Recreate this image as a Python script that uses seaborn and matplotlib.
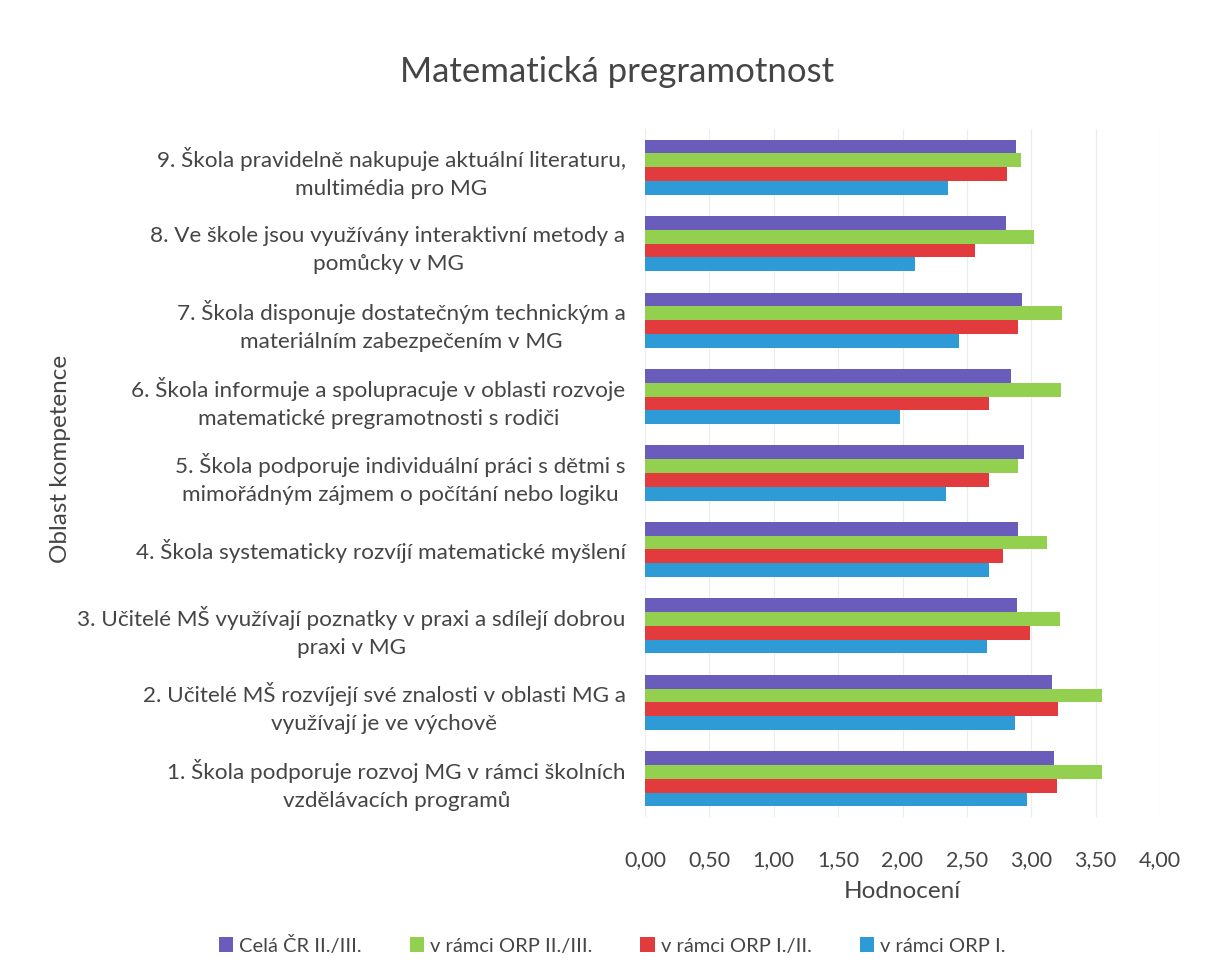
import matplotlib
matplotlib.use("Agg")
import matplotlib.pyplot as plt
import seaborn as sns
import pandas as pd

categories = [
    "9. Škola pravidelně nakupuje aktuální literaturu,\nmultimédia pro MG",
    "8. Ve škole jsou využívány interaktivní metody a\npomůcky v MG",
    "7. Škola disponuje dostatečným technickým a\nmateriálním zabezpečením v MG",
    "6. Škola informuje a spolupracuje v oblasti rozvoje\nmatematické pregramotnosti s rodiči",
    "5. Škola podporuje individuální práci s dětmi s\nmimořádným zájmem o počítání nebo logiku",
    "4. Škola systematicky rozvíjí matematické myšlení",
    "3. Učitelé MŠ využívají poznatky v praxi a sdílejí dobrou\npraxi v MG",
    "2. Učitelé MŠ rozvíjejí své znalosti v oblasti MG a\nvyužívají je ve výchově",
    "1. Škola podporuje rozvoj MG v rámci školních\nvzdělávacích programů",
]
series_names = ["Celá ČR II./III.", "v rámci ORP II./III.", "v rámci ORP I./II.", "v rámci ORP I."]
cela_cr = [2.88, 2.80, 2.93, 2.84, 2.94, 2.90, 2.89, 3.16, 3.18]
orp_2_3 = [2.92, 3.02, 3.24, 3.23, 2.90, 3.12, 3.22, 3.55, 3.55]
orp_1_2 = [2.81, 2.56, 2.90, 2.67, 2.67, 2.78, 2.99, 3.21, 3.20]
orp_1 = [2.35, 2.10, 2.44, 1.98, 2.34, 2.67, 2.66, 2.87, 2.97]
x_ticks = [0, 0.5, 1, 1.5, 2, 2.5, 3, 3.5, 4]
x_ticklabels = ["0,00", "0,50", "1,00", "1,50", "2,00", "2,50", "3,00", "3,50", "4,00"]

colors = ["#6A5CBA", "#94D04F", "#E23B3E", "#2E9AD6"]

rows = []
for name, vals in zip(series_names, [cela_cr, orp_2_3, orp_1_2, orp_1]):
    for c, v in zip(categories, vals):
        rows.append({"Oblast": c, "Série": name, "Hodnota": v})
df = pd.DataFrame(rows)

sns.set_theme(style="white")
plt.rcParams["font.family"] = ["Lato", "DejaVu Sans"]
text_color = "#454545"

fig = plt.figure(figsize=(12.07, 9.72), dpi=100)
ax = fig.add_axes([645/1207, 1-817/972, 515/1207, 688/972])

sns.barplot(data=df, y="Oblast", x="Hodnota", hue="Série", order=categories,
            hue_order=series_names, palette=colors, orient="h", width=0.72,
            saturation=1, errorbar=None, ax=ax, edgecolor="none")

ax.set_xlim(0, 4)
ax.set_xticks(x_ticks)
ax.set_xticklabels(x_ticklabels, fontsize=15.5, color=text_color)
for xv in x_ticks:
    ax.axvline(xv, color="#ececec", lw=0.8, zorder=0)
for s in ax.spines.values():
    s.set_visible(False)
ax.tick_params(axis="x", length=0, pad=24)
ax.tick_params(axis="y", length=0, pad=14)
for lab in ax.get_yticklabels():
    lab.set_fontsize(16.2)
    lab.set_color(text_color)
    lab.set_multialignment("center")
    lab.set_linespacing(1.5)

ax.set_xlabel("Hodnocení", fontsize=17.5, color=text_color, labelpad=8)
ax.set_ylabel("Oblast kompetence", fontsize=17.5, color=text_color)
ax.yaxis.set_label_coords(-1.115, 0.52)

fig.text(617/1207, 1-72/972, "Matematická pregramotnost", fontsize=25,
         color=text_color, ha="center", va="center")

handles, labels = ax.get_legend_handles_labels()
ax.get_legend().remove()
fig.legend(handles, labels, loc="center", bbox_to_anchor=(612/1207, 1-945/972),
           ncol=4, frameon=False, fontsize=14.5, handlelength=0.7, handleheight=0.7,
           handletextpad=0.3, columnspacing=2.4, labelcolor=text_color)

fig.savefig("out.png", dpi=100, facecolor="white")
